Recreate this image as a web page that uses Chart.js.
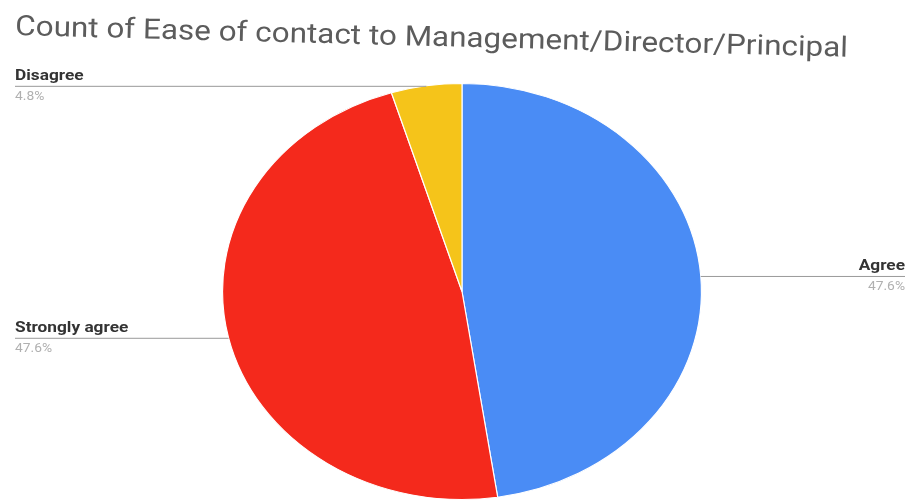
<!DOCTYPE html>
<html>
<head>
<meta charset="utf-8">
<script src="https://cdn.jsdelivr.net/npm/chart.js@4/dist/chart.umd.min.js"></script>
<style>
  body { margin: 0; background: #fff; }
  #pie { display: block; }
</style>
</head>
<body>
<canvas id="pie" width="912" height="501"></canvas>
<script>
// Survey answers, Google Sheets order (clockwise from top)
const categories = ['Agree', 'Strongly agree', 'Disagree'];
const counts = [10, 10, 1];
const sliceColors = ['#4a8cf5', '#f4291c', '#f5c41a'];
const chartTitle = 'Count of Ease of contact to Management/Director/Principal';

// the photo is stretched sideways, pie becomes an ellipse
const stretchX = 480 / 417;

const total = counts.reduce((a, b) => a + b, 0);
const percentText = counts.map(c => (c / total * 100).toFixed(1) + '%');

// Stretch the slices horizontally around the pie centre
const ellipsePlugin = {
    id: 'ellipse',
    beforeDatasetsDraw(chart) {
        const arc = chart.getDatasetMeta(0).data[0];
        const ctx = chart.ctx;
        ctx.save();
        ctx.translate(arc.x, arc.y);
        ctx.scale(stretchX, 1);
        ctx.translate(-arc.x, -arc.y);
    },
    afterDatasetsDraw(chart) {
        chart.ctx.restore();
    }
};

function stretchedText(ctx, text, x, y, align) {
    ctx.save();
    ctx.translate(x, y);
    ctx.scale(stretchX, 1);
    ctx.textAlign = align;
    ctx.fillText(text, 0, 0);
    ctx.restore();
}

// Title (slightly tilted like the photo) + leader line labels
const sideLabels = {
    id: 'sideLabels',
    afterDraw(chart) {
        const ctx = chart.ctx;
        ctx.save();
        ctx.font = '28px Roboto';
        ctx.fillStyle = '#5c5c5c';
        ctx.textBaseline = 'alphabetic';
        const w = ctx.measureText(chartTitle).width;
        ctx.translate(15, 35);
        ctx.rotate(0.026);
        ctx.scale(833 / w, 1);
        ctx.fillText(chartTitle, 0, 0);
        ctx.restore();

        const arcs = chart.getDatasetMeta(0).data;
        ctx.save();
        arcs.forEach((arc, i) => {
            const mid = (arc.startAngle + arc.endAngle) / 2;
            const px = arc.x + Math.cos(mid) * arc.outerRadius * stretchX;
            const py = arc.y + Math.sin(mid) * arc.outerRadius;
            const left = px < arc.x;
            const x0 = left ? 15 : px;
            const x1 = left ? px : 905;
            const tx = left ? 15 : 905;
            const align = left ? 'left' : 'right';

            ctx.strokeStyle = '#999';
            ctx.lineWidth = 1;
            ctx.beginPath();
            ctx.moveTo(x0, py + 0.5);
            ctx.lineTo(x1, py + 0.5);
            ctx.stroke();

            ctx.textBaseline = 'alphabetic';
            ctx.fillStyle = '#333';
            ctx.font = 'bold 15px Roboto';
            stretchedText(ctx, categories[i], tx, py - 6, align);

            ctx.textBaseline = 'top';
            ctx.fillStyle = '#b0b0b0';
            ctx.font = '12px Roboto';
            stretchedText(ctx, percentText[i], tx, py + 5, align);
        });
        ctx.restore();
    }
};

new Chart(document.getElementById('pie'), {
    type: 'pie',
    data: {
        labels: categories,
        datasets: [{
            data: counts,
            backgroundColor: sliceColors,
            borderColor: '#fff',
            borderWidth: 1
        }]
    },
    options: {
        responsive: false,
        animation: false,
        layout: { padding: { left: 150, right: 138, top: 83, bottom: 1 } },
        plugins: {
            legend: { display: false },
            tooltip: { enabled: false },
            title: { display: false }
        }
    },
    plugins: [ellipsePlugin, sideLabels]
});
</script>
</body>
</html>
